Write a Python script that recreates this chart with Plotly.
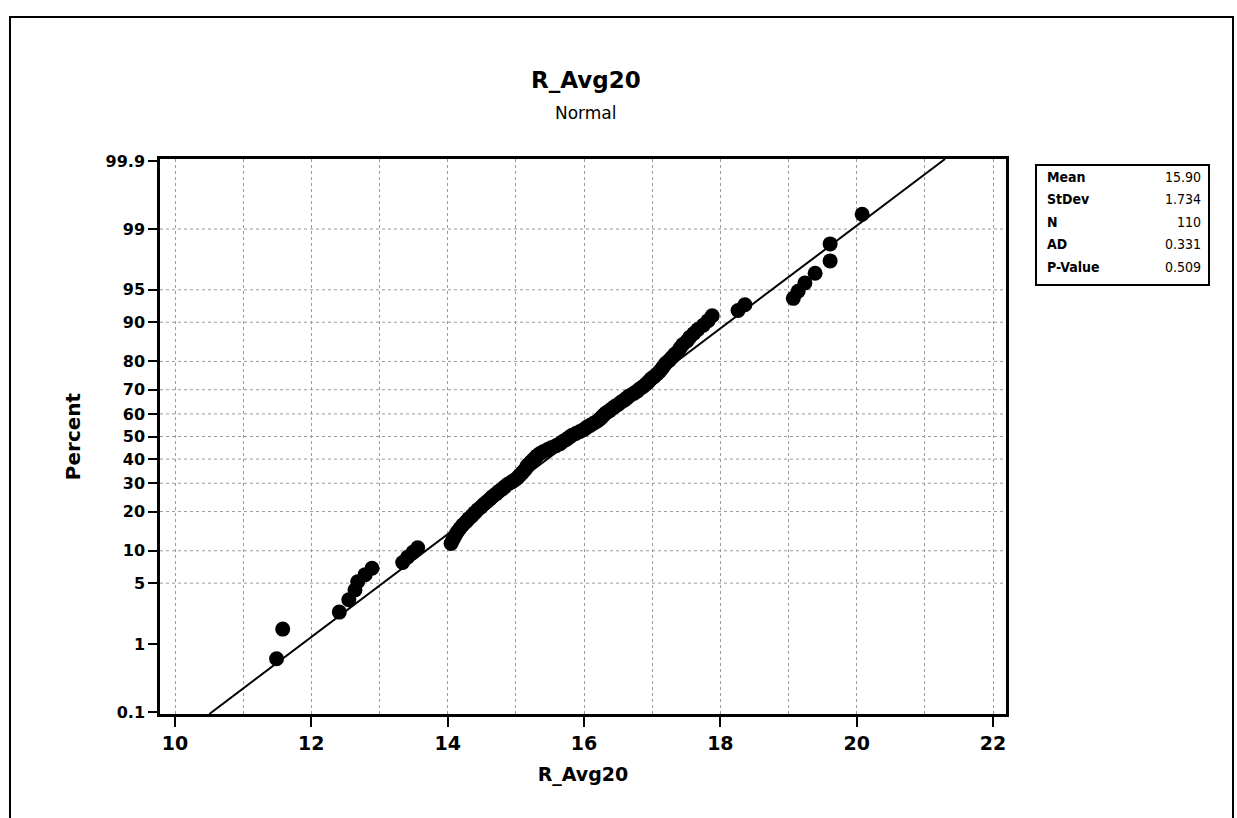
import plotly.graph_objects as go
from statistics import NormalDist

values = [
    11.49, 11.58, 12.41, 12.55, 12.64, 12.68, 12.79, 12.89, 13.34, 13.41,
    13.49, 13.56, 14.05, 14.08, 14.11, 14.14, 14.18, 14.22, 14.27, 14.31,
    14.36, 14.40, 14.44, 14.49, 14.53, 14.58, 14.62, 14.66, 14.71, 14.75,
    14.80, 14.84, 14.88, 14.94, 14.99, 15.03, 15.06, 15.09, 15.12, 15.15,
    15.16, 15.19, 15.22, 15.25, 15.28, 15.31, 15.35, 15.40, 15.46, 15.52,
    15.59, 15.65, 15.69, 15.74, 15.78, 15.82, 15.88, 15.94, 16.00, 16.04,
    16.09, 16.14, 16.19, 16.23, 16.26, 16.29, 16.32, 16.37, 16.41, 16.45,
    16.50, 16.54, 16.59, 16.63, 16.67, 16.73, 16.78, 16.82, 16.87, 16.91,
    16.95, 16.98, 17.03, 17.07, 17.11, 17.14, 17.17, 17.20, 17.25, 17.29,
    17.33, 17.38, 17.41, 17.45, 17.51, 17.55, 17.61, 17.67, 17.75, 17.82,
    17.88, 18.26, 18.36, 19.07, 19.14, 19.24, 19.39, 19.61, 19.61, 20.08,
]
mean_val = 15.90
stdev_val = 1.734
n_val = 110
ad_val = 0.331
p_val = 0.509

pct_ticks = [0.1, 1, 5, 10, 20, 30, 40, 50, 60, 70, 80, 90, 95, 99, 99.9]
pct_tick_text = ["0.1", "1", "5", "10", "20", "30", "40", "50", "60", "70", "80", "90", "95", "99", "99.9"]
grid_pcts = [5, 10, 20, 30, 40, 50, 60, 70, 80, 90, 95, 99]
x_ticks = [10, 12, 14, 16, 18, 20, 22]

stats_labels = ["Mean", "StDev", "N", "AD", "P-Value"]
stats_values = [f"{mean_val:.2f}", f"{stdev_val:.3f}", f"{n_val}", f"{ad_val:.3f}", f"{p_val:.3f}"]

# ---- probability scale ----
nd = NormalDist()
n = len(values)
# Minitab median-rank plotting positions
z_pts = [nd.inv_cdf((i - 0.3) / (n + 0.4)) for i in range(1, n + 1)]
z_ticks = [nd.inv_cdf(p / 100) for p in pct_ticks]

z_lo, z_hi = -3.112, 3.112
fit_z = [z_lo, z_hi]
fit_x = [mean_val + stdev_val * z for z in fit_z]

fig = go.Figure()
fig.add_trace(go.Scatter(x=fit_x, y=fit_z, mode="lines",
                         line=dict(color="black", width=2), hoverinfo="skip",
                         showlegend=False))
fig.add_trace(go.Scatter(x=values, y=z_pts, mode="markers",
                         marker=dict(color="black", size=15, line=dict(width=0)),
                         showlegend=False, cliponaxis=False))

# horizontal dotted gridlines
for p in grid_pcts:
    zz = nd.inv_cdf(p / 100)
    fig.add_shape(type="line", xref="paper", yref="y", x0=0, x1=1, y0=zz, y1=zz,
                  line=dict(color="#9a9a9a", width=1, dash="dot"), layer="below")

PL, PR, PT, PB = 160, 1006, 159, 714
W, H = 1237, 818


def px_x(px):
    return (px - PL) / (PR - PL)


def px_y(py):
    return (PB - py) / (PB - PT)


# outer frame (scan border)
fig.add_shape(type="rect", xref="paper", yref="paper",
              x0=px_x(10), x1=px_x(1233), y0=px_y(830), y1=px_y(17),
              line=dict(color="black", width=2), fillcolor="rgba(0,0,0,0)")

# stats box
bx0, bx1, by0, by1 = 1036, 1209, 165, 285
fig.add_shape(type="rect", xref="paper", yref="paper",
              x0=px_x(bx0), x1=px_x(bx1), y0=px_y(by1), y1=px_y(by0),
              line=dict(color="black", width=2), fillcolor="white")
row_y = [177, 199, 222, 244, 267]
for lab, val, ry in zip(stats_labels, stats_values, row_y):
    fig.add_annotation(xref="paper", yref="paper", x=px_x(1045), y=px_y(ry),
                       text="<b>" + lab + "</b>", showarrow=False, xanchor="left", yanchor="middle",
                       font=dict(family="DejaVu Sans Condensed, DejaVu Sans", size=14, color="black"))
    fig.add_annotation(xref="paper", yref="paper", x=px_x(1203), y=px_y(ry),
                       text=val, showarrow=False, xanchor="right", yanchor="middle",
                       font=dict(family="DejaVu Sans Condensed, DejaVu Sans", size=14, color="black"))

# titles
fig.add_annotation(xref="paper", yref="paper", x=px_x(586), y=px_y(80),
                   text="<b>R_Avg20</b>", showarrow=False, xanchor="center", yanchor="middle",
                   font=dict(family="DejaVu Sans", size=23, color="black"))
fig.add_annotation(xref="paper", yref="paper", x=px_x(586), y=px_y(113),
                   text="Normal", showarrow=False, xanchor="center", yanchor="middle",
                   font=dict(family="DejaVu Sans", size=17, color="black"))

fig.update_layout(
    width=W, height=H,
    margin=dict(l=PL, r=W - PR, t=PT, b=H - PB),
    paper_bgcolor="white", plot_bgcolor="white",
    showlegend=False,
    xaxis=dict(
        range=[9.78, 22.19], tickvals=x_ticks, ticktext=["<b>%d</b>" % t for t in x_ticks],
        showline=True, linecolor="black", linewidth=2.5, mirror=True,
        ticks="outside", ticklen=10, tickwidth=2, tickcolor="black",
        showgrid=True, gridcolor="#9a9a9a", gridwidth=1, griddash="dot",
        minor=dict(dtick=1, tick0=10, showgrid=True, gridcolor="#9a9a9a", griddash="dot", ticks=""),
        zeroline=False,
        tickfont=dict(family="DejaVu Sans", size=19, color="black"),
        title=dict(text="<b>R_Avg20</b>", standoff=16,
                   font=dict(family="DejaVu Sans", size=19, color="black")),
    ),
    yaxis=dict(
        range=[z_lo, z_hi], tickvals=z_ticks, ticktext=["<b>%s</b>" % t for t in pct_tick_text],
        showline=True, linecolor="black", linewidth=2.5, mirror=True,
        ticks="outside", ticklen=9, tickwidth=2, tickcolor="black",
        showgrid=False, zeroline=False,
        tickfont=dict(family="DejaVu Sans", size=16, color="black"),
        title=dict(text="<b>Percent</b>", standoff=20,
                   font=dict(family="DejaVu Sans", size=20, color="black")),
    ),
)

fig.write_html("out.html")
